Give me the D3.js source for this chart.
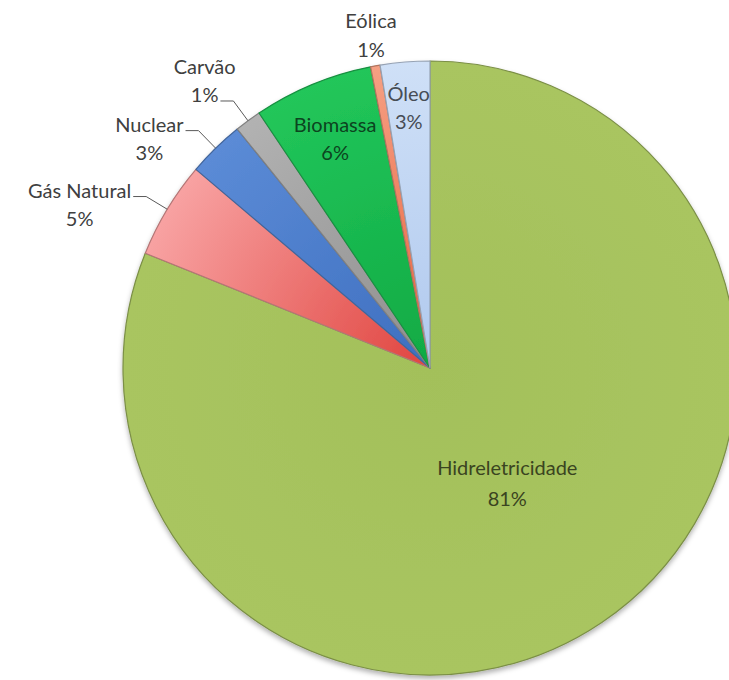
<!DOCTYPE html>
<html>
<head>
<meta charset="utf-8">
<script src="https://cdn.jsdelivr.net/npm/d3@7"></script>
<style>
  body { margin: 0; background: #fff; }
  svg { display: block; }
</style>
</head>
<body>
<div id="grafico"></div>
<script>
// matriz eletrica - participacao de cada fonte (%)
var fontes = ["Hidreletricidade", "Gás Natural", "Nuclear", "Carvão", "Biomassa", "Eólica", "Óleo"];
var participacao = [81.1, 5.1, 3.0, 1.4, 6.3, 0.5, 2.6];

// cores: borda externa e perto do centro
var corExterna = ["#a9c560", "#f8a2a2", "#5b8bd6", "#b2b2b2", "#22c65a", "#f5a083", "#cfe0f7"];
var corInterna = ["#a3c05a", "#e0443f", "#3e6fc0", "#8e8e8e", "#10aa44", "#e8603c", "#b0c9ee"];

var width = 729, height = 680;
var cx = 430, cy = 368, raio = 307;
var fonte = "Lato, 'Open Sans', sans-serif";
var tamFonte = 20, capH = 14, entreLinhas = 28.5;

var dados = fontes.map(function(f, i) {
    return {nome: f, valor: participacao[i], rotulo: Math.round(participacao[i]) + "%", i: i};
});

var svg = d3.select("#grafico").append("svg")
    .attr("width", width)
    .attr("height", height);

var defs = svg.append("defs");

var sombra = defs.append("filter").attr("id", "sombra")
    .attr("x", "-10%").attr("y", "-10%").attr("width", "120%").attr("height", "120%");
sombra.append("feDropShadow")
    .attr("dx", 0).attr("dy", 3).attr("stdDeviation", 2.5)
    .attr("flood-color", "#000").attr("flood-opacity", 0.3);

dados.forEach(function(d) {
    var g = defs.append("radialGradient")
        .attr("id", "grad" + d.i)
        .attr("gradientUnits", "userSpaceOnUse")
        .attr("cx", 0).attr("cy", 0).attr("r", raio);
    g.append("stop").attr("offset", "0%").attr("stop-color", corInterna[d.i]);
    g.append("stop").attr("offset", "100%").attr("stop-color", corExterna[d.i]);
});

var pie = d3.pie().sort(null).value(function(d) { return d.valor; });
var arcos = pie(dados);

var arc = d3.arc().innerRadius(0).outerRadius(raio);

var g = svg.append("g").attr("transform", "translate(" + cx + "," + cy + ")");

g.append("g").attr("filter", "url(#sombra)")
    .selectAll("path")
    .data(arcos)
    .join("path")
    .attr("d", arc)
    .attr("fill", function(d) { return "url(#grad" + d.data.i + ")"; })
    .attr("stroke", function(d) { return d3.color(corExterna[d.data.i]).darker(0.9); })
    .attr("stroke-width", 1.2)
    .attr("stroke-linejoin", "round");

// ---- rotulos ----
function polar(ang, r) {
    return [Math.sin(ang) * r, -Math.cos(ang) * r];
}

var camadaLinhas = g.append("g");
var camadaTexto = g.append("g")
    .attr("font-family", fonte)
    .attr("font-size", tamFonte)
    .attr("text-anchor", "middle");

var anteriores = [];

arcos.forEach(function(a) {
    var d = a.data;
    var meio = (a.startAngle + a.endAngle) / 2;
    var bloco = camadaTexto.append("g");
    var t1 = bloco.append("text").text(d.nome);
    var t2 = bloco.append("text").text(d.rotulo);
    var w1 = t1.node().getComputedTextLength();
    var w2 = t2.node().getComputedTextLength();
    var largura = Math.max(w1, w2);
    var altura = capH + entreLinhas;

    // cabe dentro da fatia?
    var comprArco = (a.endAngle - a.startAngle) * raio * 0.84;
    var dentro = largura < comprArco + 4;

    if (dentro) {
        var pos;
        if (a.endAngle - a.startAngle > Math.PI) {
            pos = polar(meio, raio * 0.45);
        } else {
            // empurra o bloco para fora ate o canto tocar 0.93 do raio
            var t = 0;
            for (var s = 0; s < raio; s++) {
                var c = polar(meio, s);
                var ok = [-1, 1].every(function(sx) {
                    return [-1, 1].every(function(sy) {
                        var px = c[0] + sx * largura / 2, py = c[1] + sy * altura / 2;
                        return Math.sqrt(px * px + py * py) <= raio * 0.93;
                    });
                });
                if (ok) t = s; else break;
            }
            pos = polar(meio, t);
        }
        var cor = d3.color(corExterna[d.i]).darker(3);
        var base1 = pos[1] - altura / 2 + capH;
        t1.attr("x", pos[0]).attr("y", base1).attr("fill", cor);
        t2.attr("x", pos[0]).attr("y", base1 + (a.endAngle - a.startAngle > Math.PI ? 31 : entreLinhas)).attr("fill", cor);
        return;
    }

    var borda = polar(meio, raio);
    var cotovelo = polar(meio, raio * 1.08);
    var cor2 = "#404040";
    t1.attr("fill", cor2);
    t2.attr("fill", cor2);

    if (Math.abs(Math.sin(meio)) < 0.3) {
        // perto do topo: rotulo centrado, sem linha
        var b2 = cotovelo[1] + 15;
        t1.attr("x", cotovelo[0]).attr("y", b2 - entreLinhas);
        t2.attr("x", cotovelo[0]).attr("y", b2);
        return;
    }

    var lado = cotovelo[0] < 0 ? -1 : 1;
    var fimLinha = cotovelo[0] + lado * 13;
    var base = cotovelo[1] + 1;
    var linhaPresa = 0;
    var caixa = {y0: base - capH, y1: base - capH + altura};
    anteriores.forEach(function(p) {
        if (caixa.y0 < p.y1 && caixa.y1 > p.y0 && linhaPresa === 0) {
            linhaPresa = 1;
        }
    });
    var wPreso = linhaPresa === 0 ? w1 : w2;
    var centroX = fimLinha + lado * (2 + wPreso / 2);
    var base1o = base - linhaPresa * entreLinhas;
    t1.attr("x", centroX).attr("y", base1o);
    t2.attr("x", centroX).attr("y", base1o + entreLinhas);
    anteriores.push({y0: base1o - capH, y1: base1o - capH + altura});

    camadaLinhas.append("polyline")
        .attr("points", [borda, cotovelo, [fimLinha, cotovelo[1]]].map(function(p) { return p.join(","); }).join(" "))
        .attr("fill", "none")
        .attr("stroke", "#595959")
        .attr("stroke-width", 1);
});
</script>
</body>
</html>
